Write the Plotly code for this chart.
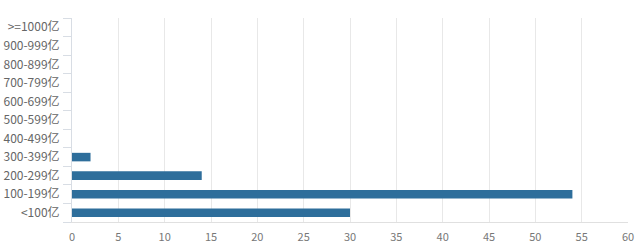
import plotly.graph_objects as go

categories = ["<100亿", "100-199亿", "200-299亿", "300-399亿", "400-499亿",
              "500-599亿", "600-699亿", "700-799亿", "800-899亿", "900-999亿", ">=1000亿"]
values = [30, 54, 14, 2, 0, 0, 0, 0, 0, 0, 0]
x_ticks = list(range(0, 61, 5))

fig = go.Figure(go.Bar(
    x=values, y=categories, orientation="h",
    marker=dict(color="#2e6e9b", line=dict(width=0)),
    width=0.46,
))
fig.update_layout(
    width=640, height=252,
    margin=dict(l=72, r=12, t=18, b=30),
    paper_bgcolor="white", plot_bgcolor="white",
    font=dict(family="Noto Sans CJK SC, Noto Sans, sans-serif", size=11, color="#666666"),
    showlegend=False,
)
fig.update_xaxes(
    range=[0, 60], tickvals=x_ticks, showgrid=True, gridcolor="#e8e8e8", gridwidth=1,
    showline=True, linecolor="#e0e0e0", zeroline=False, ticks="",
    ticklabelstandoff=5, automargin=False,
    tickfont=dict(size=11, color="#777777"),
)
fig.update_yaxes(
    type="category", categoryorder="array", categoryarray=categories,
    showline=True, linecolor="#d8dde4", ticks="outside", ticklen=8, tickcolor="#d8dde4",
    tickson="boundaries", showgrid=False, ticklabelstandoff=9, automargin=False,
    tickfont=dict(size=12, color="#666666"),
)
fig.write_html("out.html")
